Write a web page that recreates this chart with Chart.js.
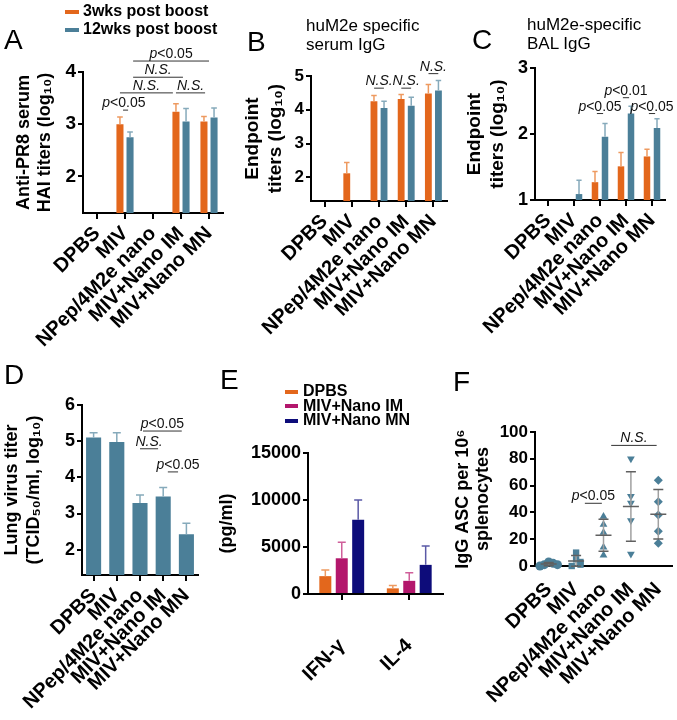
<!DOCTYPE html>
<html>
<head>
<meta charset="utf-8">
<script src="https://cdn.jsdelivr.net/npm/chart.js@4.4.1/dist/chart.umd.min.js"></script>
<style>
  body { margin: 0; background: #fff; }
  #fig { position: relative; width: 677px; height: 720px; overflow: hidden; color: #000;
         font-family: 'Liberation Sans', Arial, Helvetica, sans-serif; }
  #fig canvas { position: absolute; }
  .letter { position: absolute; font-size: 28px; line-height: 1; }
  .legend { position: absolute; font-weight: bold; white-space: nowrap; }
  .legend .key { display: inline-block; vertical-align: middle; }
  .sub { position: absolute; font-size: 17px; line-height: 18.5px; white-space: nowrap; }
</style>
</head>
<body>
<div id="fig">
  <canvas id="chartA" width="232" height="360" style="left:0;top:0"></canvas>
  <canvas id="chartB" width="218" height="360" style="left:232px;top:0"></canvas>
  <canvas id="chartC" width="222" height="360" style="left:455px;top:0"></canvas>
  <canvas id="chartD" width="220" height="360" style="left:0;top:360px"></canvas>
  <canvas id="chartE" width="240" height="360" style="left:215px;top:360px"></canvas>
  <canvas id="chartF" width="227" height="360" style="left:450px;top:360px"></canvas>

  <div class="letter" style="left:4px;top:26px">A</div>
  <div class="letter" style="left:247px;top:28px">B</div>
  <div class="letter" style="left:472px;top:26px">C</div>
  <div class="letter" style="left:4px;top:361px">D</div>
  <div class="letter" style="left:220px;top:366px">E</div>
  <div class="letter" style="left:453px;top:368px">F</div>

  <div class="legend" style="left:65px;top:2px;font-size:16px;line-height:18px">
    <div><span class="key" style="width:14px;height:4px;margin-right:4px;background:#e3671c"></span>3wks post boost</div>
    <div><span class="key" style="width:14px;height:4px;margin-right:4px;background:#4b7f98"></span>12wks post boost</div>
  </div>
  <div class="sub" style="left:306px;top:17px">huM2e specific<br>serum IgG</div>
  <div class="sub" style="left:527px;top:16px">huM2e-specific<br>BAL IgG</div>
  <div class="legend" style="left:285px;top:384px;font-size:16px;line-height:14.5px">
    <div><span class="key" style="width:13px;height:4px;margin-right:5px;background:#e3671c"></span>DPBS</div>
    <div><span class="key" style="width:13px;height:4px;margin-right:5px;background:#b3176c"></span>MIV+Nano IM</div>
    <div><span class="key" style="width:13px;height:4px;margin-right:5px;background:#0d0c7a"></span>MIV+Nano MN</div>
  </div>
</div>

<script>
// ---- data ----
const groups = ['DPBS', 'MIV', 'NPep/4M2e nano', 'MIV+Nano IM', 'MIV+Nano MN'];

// A: anti-PR8 serum HAI titers (log10)
const haiWk3 = [null, 3.0, null, 3.24, 3.05];
const haiWk3Err = [null, 0.14, null, 0.15, 0.1];
const haiWk12 = [null, 2.75, null, 3.05, 3.13];
const haiWk12Err = [null, 0.1, null, 0.25, 0.18];
const haiTicks = [2, 3, 4];

// B: huM2e specific serum IgG endpoint titers (log10)
const serumWk3 = [null, 2.12, 4.25, 4.32, 4.48];
const serumWk3Err = [null, 0.32, 0.17, 0.13, 0.27];
const serumWk12 = [null, null, 4.05, 4.12, 4.57];
const serumWk12Err = [null, null, 0.2, 0.25, 0.3];
const serumTicks = [2, 3, 4, 5];

// C: huM2e-specific BAL IgG endpoint titers (log10)
const balWk3 = [null, null, 1.27, 1.51, 1.66];
const balWk3Err = [null, null, 0.16, 0.21, 0.11];
const balWk12 = [null, 1.09, 1.96, 2.31, 2.09];
const balWk12Err = [null, 0.21, 0.2, 0.11, 0.14];
const balTicks = [1, 2, 3];

// D: lung virus titer
const lungTiter = [5.1, 4.98, 3.29, 3.47, 2.43];
const lungTiterErr = [0.13, 0.25, 0.22, 0.25, 0.3];
const lungTicks = [2, 3, 4, 5, 6];

// E: cytokines (pg/ml)
const cytokines = ['IFN-\u03b3', 'IL-4'];
const cytoDPBS = [1900, 600];
const cytoDPBSErr = [650, 300];
const cytoIM = [3800, 1400];
const cytoIMErr = [1700, 850];
const cytoMN = [7900, 3100];
const cytoMNErr = [2100, 2000];
const cytoTicks = [0, 5000, 10000, 15000];

// F: IgG ASC per 10^6 splenocytes, one value per mouse
const ascDPBS = [3, 2, 1, 1, 0];
const ascMIV = [10, 5, 3, 1, 0];
const ascNPep = [37, 31, 25, 14, 8];
const ascIM = [80, 52, 47, 34, 9];
const ascMN = [64, 48, 38, 26, 17];
const ascTicks = [0, 20, 40, 60, 80, 100];

// significance brackets: from/to in category units, y in data units
const notesA = [
  { from: 0.93, to: 1.11, y: 3.27, text: 'p<0.05', tx: 0.96 },
  { from: 0.82, to: 2.71, y: 3.6, text: 'N.S.' },
  { from: 2.82, to: 3.86, y: 3.6, text: 'N.S.' },
  { from: 1.29, to: 3.07, y: 3.9, text: 'N.S.' },
  { from: 1.29, to: 4.0, y: 4.21, text: 'p<0.05' }
];
const notesB = [
  { from: 1.82, to: 2.18, y: 4.64, text: 'N.S.' },
  { from: 2.82, to: 3.18, y: 4.64, text: 'N.S.' },
  { from: 3.82, to: 4.18, y: 5.07, text: 'N.S.' }
];
const notesC = [
  { from: 1.88, to: 2.12, y: 2.31, text: 'p<0.05' },
  { from: 2.88, to: 3.12, y: 2.55, text: 'p<0.01' },
  { from: 3.88, to: 4.12, y: 2.31, text: 'p<0.05' }
];
const notesD = [
  { from: 2.13, to: 3.8, y: 5.28, text: 'p<0.05' },
  { from: 2.0, to: 2.78, y: 4.79, text: 'N.S.' },
  { from: 3.2, to: 3.64, y: 4.15, text: 'p<0.05', tx: 3.64 }
];
const notesF = [
  { from: 1.32, to: 1.94, y: 46.8, text: 'p<0.05' },
  { from: 2.28, to: 3.94, y: 90, text: 'N.S.' }
];

// ---- styling ----
const FONT = "'Liberation Sans', Arial, Helvetica, sans-serif";
Chart.defaults.font.family = FONT;
Chart.defaults.color = '#000';
Chart.defaults.animation = false;

const orange = '#e3671c', orangeErr = '#ee9a60';
const blue = '#4b7f98', blueErr = '#86aabb';
const magenta = '#b3176c', magentaErr = '#cf5f9a';
const navy = '#0d0c7a', navyErr = '#5a59a6';

// draws an upper error bar with a cap on each bar
const errorBars = {
  id: 'errorBars',
  afterDatasetsDraw(chart) {
    const ctx = chart.ctx;
    const y = chart.scales.y;
    chart.data.datasets.forEach((ds, di) => {
      if (!ds.errors) return;
      chart.getDatasetMeta(di).data.forEach((bar, i) => {
        const v = ds.data[i], e = ds.errors[i];
        if (v == null || e == null) return;
        const top = y.getPixelForValue(v + e);
        const half = Math.min(bar.width * 0.4, 4);
        ctx.save();
        ctx.strokeStyle = ds.errorColor;
        ctx.lineWidth = 1.5;
        ctx.beginPath();
        ctx.moveTo(bar.x, bar.y);
        ctx.lineTo(bar.x, top);
        ctx.moveTo(bar.x - half, top);
        ctx.lineTo(bar.x + half, top);
        ctx.stroke();
        ctx.restore();
      });
    });
  }
};

function drawNote(ctx, text, cx, base) {
  const normal = '14px ' + FONT;
  const italic = 'italic ' + normal;
  const parts = text.startsWith('p') ? [['p', italic], [text.slice(1), normal]] : [[text, italic]];
  let w = 0;
  parts.forEach(p => { ctx.font = p[1]; w += ctx.measureText(p[0]).width; });
  let xx = cx - w / 2;
  ctx.fillStyle = '#111';
  ctx.textAlign = 'left';
  ctx.textBaseline = 'alphabetic';
  parts.forEach(p => {
    ctx.font = p[1];
    ctx.fillText(p[0], xx, base);
    xx += ctx.measureText(p[0]).width;
  });
}

// significance lines + labels
const sigNotes = {
  id: 'sigNotes',
  afterDraw(chart, args, opts) {
    const { ctx, scales: { x, y } } = chart;
    (opts.notes || []).forEach(n => {
      const x1 = x.getPixelForValue(n.from), x2 = x.getPixelForValue(n.to);
      const py = y.getPixelForValue(n.y);
      ctx.save();
      ctx.strokeStyle = '#333';
      ctx.lineWidth = 1;
      ctx.beginPath();
      ctx.moveTo(x1, py);
      ctx.lineTo(x2, py);
      ctx.stroke();
      const cx = n.tx != null ? x.getPixelForValue(n.tx) : (x1 + x2) / 2;
      drawNote(ctx, n.text, cx, py - 3);
      ctx.restore();
    });
  }
};

// mean and SD lines for the scatter panel
const meanSd = {
  id: 'meanSd',
  afterDatasetsDraw(chart) {
    const { ctx, scales: { x, y } } = chart;
    chart.data.datasets.forEach((ds, i) => {
      const vals = ds.data.map(p => p.y);
      const m = vals.reduce((a, b) => a + b, 0) / vals.length;
      const sd = Math.sqrt(vals.reduce((a, b) => a + (b - m) ** 2, 0) / (vals.length - 1));
      const cx = x.getPixelForValue(i);
      const pm = y.getPixelForValue(m), hi = y.getPixelForValue(m + sd), lo = y.getPixelForValue(m - sd);
      ctx.save();
      ctx.lineWidth = 1.5;
      ctx.strokeStyle = '#a0a0a0';
      ctx.beginPath(); ctx.moveTo(cx, hi); ctx.lineTo(cx, lo); ctx.stroke();
      ctx.strokeStyle = '#606060';
      ctx.beginPath();
      ctx.moveTo(cx - 8, pm); ctx.lineTo(cx + 8, pm);
      ctx.moveTo(cx - 5, hi); ctx.lineTo(cx + 5, hi);
      ctx.moveTo(cx - 5, lo); ctx.lineTo(cx + 5, lo);
      ctx.stroke();
      ctx.restore();
    });
  }
};

function yAxis(o) {
  return {
    min: o.min, max: o.max,
    border: { display: true, color: '#000', width: 2 },
    grid: { drawOnChartArea: false, color: '#000', lineWidth: 2, tickLength: 5 },
    ticks: { font: { size: o.tickSize, weight: 'bold' }, padding: 2, callback: v => String(v) },
    title: {
      display: true, text: o.title,
      font: { size: o.titleSize || 18, weight: 'bold', lineHeight: o.lh || 1.2 },
      padding: { top: o.titlePad, bottom: 0 }
    },
    afterBuildTicks: s => { s.ticks = o.ticks.map(v => ({ value: v })); },
    afterFit: s => { s.width = o.width; s.paddingTop = 0; s.paddingBottom = 0; }
  };
}

function xAxis(o) {
  return {
    offset: true,
    border: { display: true, color: '#000', width: 2 },
    grid: { offset: false, drawOnChartArea: false, color: '#000', lineWidth: 2, tickLength: 6 },
    ticks: { autoSkip: false, maxRotation: 45, minRotation: 45, font: { size: 20, weight: 'bold' }, padding: o.pad || 3 },
    afterFit: s => { s.height = o.height; s.paddingLeft = 0; s.paddingRight = 0; }
  };
}

function barDataset(data, errors, color, errColor) {
  return { data, errors, backgroundColor: color, errorColor: errColor, borderWidth: 0 };
}

function barChart(id, labels, datasets, o) {
  datasets.forEach(d => { d.categoryPercentage = o.cp; d.barPercentage = o.bp; });
  return new Chart(document.getElementById(id), {
    type: 'bar',
    data: { labels, datasets },
    options: {
      responsive: false,
      devicePixelRatio: 1,
      layout: { padding: { top: o.padTop, right: o.padRight, left: 0, bottom: 0 } },
      plugins: { legend: { display: false }, tooltip: { enabled: false }, sigNotes: { notes: o.notes || [] } },
      scales: { x: xAxis({ height: o.xh, pad: o.labelPad }), y: yAxis(o.y) }
    },
    plugins: [errorBars, sigNotes]
  });
}

// A
barChart('chartA', groups, [
  barDataset(haiWk3, haiWk3Err, orange, orangeErr),
  barDataset(haiWk12, haiWk12Err, blue, blueErr)
], {
  cp: 0.72, bp: 0.7, padTop: 72, padRight: 9, xh: 147, notes: notesA,
  y: { min: 1.3, max: 4, ticks: haiTicks, width: 83, tickSize: 19, titlePad: 13,
       title: ['Anti-PR8 serum', 'HAI titers (log\u2081\u2080)'] }
});

// B
barChart('chartB', groups, [
  barDataset(serumWk3, serumWk3Err, orange, orangeErr),
  barDataset(serumWk12, serumWk12Err, blue, blueErr)
], {
  cp: 0.74, bp: 0.68, padTop: 76, padRight: 3, xh: 159, notes: notesB,
  y: { min: 1.3, max: 5, ticks: serumTicks, width: 79, tickSize: 17, titleSize: 19, titlePad: 9.6,
       title: ['Endpoint', 'titers (log\u2081\u2080)'] }
});

// C
barChart('chartC', groups, [
  barDataset(balWk3, balWk3Err, orange, orangeErr),
  barDataset(balWk12, balWk12Err, blue, blueErr)
], {
  cp: 0.77, bp: 0.65, padTop: 68, padRight: 12, xh: 160, notes: notesC,
  y: { min: 1, max: 3, ticks: balTicks, width: 80, tickSize: 18, titleSize: 19, titlePad: 8.6,
       title: ['Endpoint', 'titers (log\u2081\u2080)'] }
});

// D
barChart('chartD', groups, [
  barDataset(lungTiter, lungTiterErr, blue, blueErr)
], {
  cp: 1, bp: 0.65, padTop: 45, padRight: 22, xh: 145, notes: notesD,
  y: { min: 1.3, max: 6, ticks: lungTicks, width: 82, tickSize: 18, titlePad: 1.2,
       title: ['Lung virus titer', '(TCID\u2085\u2080/ml, log\u2081\u2080)'] }
});

// E
barChart('chartE', cytokines, [
  barDataset(cytoDPBS, cytoDPBSErr, orange, orangeErr),
  barDataset(cytoIM, cytoIMErr, magenta, magentaErr),
  barDataset(cytoMN, cytoMNErr, navy, navyErr)
], {
  cp: 0.73, bp: 0.73, padTop: 93, padRight: 12, xh: 126, labelPad: 34,
  y: { min: 0, max: 15000, ticks: cytoTicks, width: 93, tickSize: 18, titlePad: 1.2,
       title: '(pg/ml)' }
});

// F: spread points that sit close together so they stay visible
function spread(vals, i) {
  return vals.map((v, k) => {
    const near = vals.slice(0, k).filter(u => Math.abs(u - v) < 4).length;
    const off = near === 0 ? 0 : (near % 2 ? 1 : -1) * Math.ceil(near / 2) * 0.16;
    return { x: i + off, y: v };
  });
}
const ascGroups = [ascDPBS, ascMIV, ascNPep, ascIM, ascMN];
const ascShapes = ['circle', 'rect', 'triangle', 'triangle', 'rectRot'];
const ascTurn = [0, 0, 0, 180, 0];

new Chart(document.getElementById('chartF'), {
  type: 'scatter',
  data: {
    datasets: ascGroups.map((vals, i) => ({
      data: spread(vals, i),
      pointStyle: ascShapes[i],
      rotation: ascTurn[i],
      radius: 4.5,
      backgroundColor: blue,
      borderColor: blue,
      borderWidth: 0,
      clip: false
    }))
  },
  options: {
    responsive: false,
    devicePixelRatio: 1,
    layout: { padding: { top: 72, right: 5, left: 0, bottom: 0 } },
    plugins: { legend: { display: false }, tooltip: { enabled: false }, sigNotes: { notes: notesF } },
    scales: {
      x: {
        type: 'linear', min: -0.5, max: 4.5,
        border: { display: true, color: '#000', width: 2 },
        grid: { display: true, drawOnChartArea: false, drawTicks: false, color: '#000' },
        ticks: {
          autoSkip: false, maxRotation: 45, minRotation: 45, padding: 12,
          font: { size: 20, weight: 'bold' },
          callback: v => groups[v]
        },
        afterBuildTicks: s => { s.ticks = groups.map((g, i) => ({ value: i })); },
        afterFit: s => { s.height = 154; s.paddingLeft = 0; s.paddingRight = 0; }
      },
      y: yAxis({ min: 0, max: 100, ticks: ascTicks, width: 85, tickSize: 17, titlePad: 2.9, lh: 1.12,
                 title: ['IgG ASC per 10\u2076', 'splenocytes'] })
    }
  },
  plugins: [meanSd, sigNotes]
});
</script>
</body>
</html>
